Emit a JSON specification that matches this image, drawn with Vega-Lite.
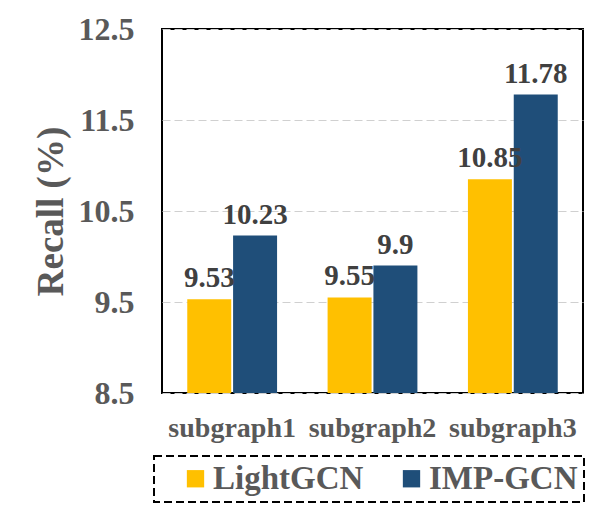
{
  "$schema": "https://vega.github.io/schema/vega-lite/v6.json",
  "autosize": "none",
  "width": 421,
  "height": 364,
  "padding": {"left": 162, "top": 29, "right": 23, "bottom": 126},
  "background": "white",
  "data": {
    "values": [
      {"group": "subgraph1", "model": "LightGCN", "recall": 9.53},
      {"group": "subgraph1", "model": "IMP-GCN", "recall": 10.23},
      {"group": "subgraph2", "model": "LightGCN", "recall": 9.55},
      {"group": "subgraph2", "model": "IMP-GCN", "recall": 9.9},
      {"group": "subgraph3", "model": "LightGCN", "recall": 10.85},
      {"group": "subgraph3", "model": "IMP-GCN", "recall": 11.78}
    ]
  },
  "config": {
    "font": "Liberation Serif",
    "view": {"stroke": "#000000", "strokeWidth": 2}
  },
  "encoding": {
    "x": {
      "field": "group",
      "type": "nominal",
      "sort": null,
      "scale": {"paddingInner": 0.36, "paddingOuter": 0.18},
      "axis": {
        "title": null,
        "labelAngle": 0,
        "labelFont": "Liberation Serif",
        "labelFontWeight": "bold",
        "labelFontSize": 28,
        "labelColor": "#595959",
        "labelPadding": 21,
        "domain": false,
        "ticks": false
      }
    },
    "xOffset": {
      "field": "model",
      "type": "nominal",
      "sort": ["LightGCN", "IMP-GCN"],
      "scale": {"paddingInner": 0.04}
    },
    "y": {
      "field": "recall",
      "type": "quantitative",
      "scale": {"domain": [8.5, 12.5], "nice": false, "zero": false},
      "axis": {
        "title": "Recall (%)",
        "titleFont": "Liberation Serif",
        "titleFontWeight": "bold",
        "titleFontSize": 37,
        "titleColor": "#595959",
        "titlePadding": 8,
        "values": [8.5, 9.5, 10.5, 11.5, 12.5],
        "format": ".1f",
        "labelFont": "Liberation Serif",
        "labelFontWeight": "bold",
        "labelFontSize": 32,
        "labelColor": "#595959",
        "labelPadding": 28,
        "domain": false,
        "ticks": false,
        "grid": true,
        "gridColor": "#d0d0d0",
        "gridDash": [8, 4],
        "gridWidth": 1
      }
    }
  },
  "layer": [
    {
      "mark": {"type": "bar", "clip": true},
      "encoding": {
        "color": {
          "field": "model",
          "type": "nominal",
          "sort": ["LightGCN", "IMP-GCN"],
          "scale": {"domain": ["LightGCN", "IMP-GCN"], "range": ["#FFC000", "#1F4E79"]},
          "legend": {
            "title": " ",
            "titleOrient": "left",
            "titleFontSize": 10,
            "titlePadding": 19,
            "orient": "none",
            "direction": "horizontal",
            "legendX": -8,
            "legendY": 427,
            "symbolType": "square",
            "symbolSize": 300,
            "symbolStrokeWidth": 0,
            "symbolOpacity": 1,
            "labelFont": "Liberation Serif",
            "labelFontWeight": "bold",
            "labelFontSize": 33,
            "labelColor": "#595959",
            "labelOffset": 1,
            "labelLimit": 400,
            "columnPadding": 31,
            "padding": 6,
            "strokeColor": "#000000",
            "encoding": {
              "legend": {"strokeDash": {"value": [8, 4]}, "strokeWidth": {"value": 2}, "width": {"value": 431}}
            }
          }
        }
      }
    },
    {
      "mark": {
        "type": "text",
        "baseline": "alphabetic",
        "dy": -12,
        "font": "Liberation Serif",
        "fontWeight": "bold",
        "fontSize": 29,
        "color": "#404040"
      },
      "encoding": {
        "text": {"field": "recall", "type": "nominal"}
      }
    }
  ]
}
